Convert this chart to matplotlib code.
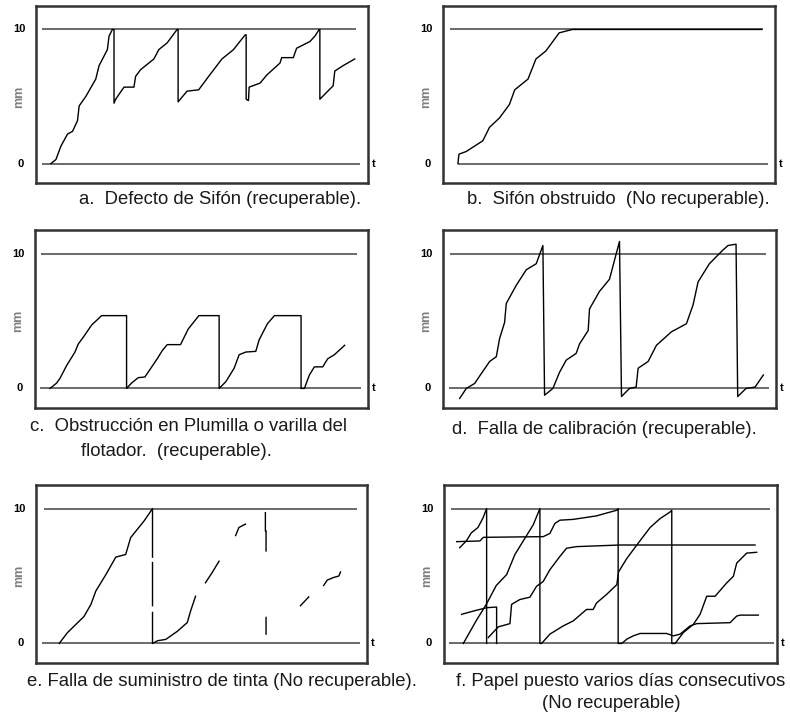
import matplotlib as mpl
import matplotlib.pyplot as plt
import numpy as np

mpl.rcParams["font.family"] = ["Liberation Sans", "DejaVu Sans"]

nan = np.nan

# a. Defecto de Sifón
a_t = [4.5, 6, 7.5, 9.5, 11, 12.5, 13, 15, 18, 19, 21.5, 22, 23, 23.5, 23.5, 24, 26.5, 29.5, 30, 31.5,
       35.5, 37, 39.5, 42.5, 42.8, 42.8, 45.5, 49, 52, 56, 59.5, 63, 63.3, 63.3, 64, 64.2, 67.5, 69.5,
       73.5, 74, 77.5, 78.5, 82.5, 84, 85.3, 85.5, 85.5, 87.5, 89.5, 90, 92.5, 96]
a_mm = [0, 0.3, 1.3, 2.2, 2.4, 3.2, 4.3, 5.0, 6.3, 7.3, 8.5, 9.5, 10, 10, 4.5, 4.8, 5.7, 5.7, 6.5, 7.0,
        7.8, 8.5, 9.0, 10, 10, 4.6, 5.4, 5.5, 6.5, 7.8, 8.5, 9.6, 9.6, 4.8, 4.7, 5.7, 6.0, 6.6,
        7.5, 7.9, 7.9, 8.6, 9.1, 9.5, 10, 10, 4.8, 5.3, 5.8, 6.9, 7.3, 7.8]

# b. Sifón obstruido
b_t = [4.5, 4.8, 7, 12, 14, 17, 20, 21.6, 25.6, 28, 31, 35, 39, 96]
b_mm = [0, 0.7, 0.9, 1.7, 2.7, 3.4, 4.4, 5.5, 6.3, 7.8, 8.4, 9.75, 10, 10]

# c. Obstrucción en plumilla
c_t = [4.5, 6.5, 7.5, 9.5, 12, 13, 14.5, 17, 20, 27.5, 27.5, 29, 31, 33, 36.7, 38.2, 39.7, 43.7, 46,
       49.2, 55.3, 55.3, 57.3, 59.8, 61.3, 63.3, 66.3, 67.3, 69.8, 71.9, 79.9, 79.9, 80.9, 82.4, 83.9,
       86.4, 87.9, 89.9, 93]
c_mm = [0, 0.4, 0.75, 1.7, 2.7, 3.3, 3.8, 4.7, 5.4, 5.4, 0, 0.4, 0.8, 0.85, 2.2, 2.8, 3.25, 3.25, 4.4,
        5.4, 5.4, 0, 0.5, 1.5, 2.5, 2.7, 2.75, 3.6, 4.8, 5.4, 5.4, 0, 0, 1.0, 1.6,
        1.6, 2.2, 2.5, 3.2]

# d. Falla de calibración
d_t = [5, 7, 9.5, 11.5, 14, 16, 17, 18.5, 19, 22, 25, 28, 30, 30.5, 33, 35, 37, 40, 41, 43.6, 44, 47,
       50, 51.6, 53, 53.6, 56, 58, 58.6, 61.6, 64.1, 68.6, 73.1, 75.1, 76.6, 80, 84, 85.6, 88, 88.5,
       91, 93.7, 96.2]
d_mm = [-0.74, 0, 0.37, 1.1, 2.0, 2.35, 3.7, 4.9, 6.3, 7.65, 8.8, 9.25, 10.6, -0.5, 0, 1.2, 2.1, 2.6,
        3.3, 4.3, 5.9, 7.2, 8.1, 9.6, 10.9, -0.6, 0, 0.1, 1.5, 2.0, 3.2, 4.2, 4.8, 6.2, 7.9, 9.25,
        10.25, 10.6, 10.7, -0.6, 0, 0.1, 1.0]

# e. Falla de suministro de tinta (trazo interrumpido)
e_t = [7, 9.5, 14.5, 16.6, 18.1, 21.1, 24.1, 27.1, 28.6, 32.7, 35.2, 35.2, nan, 35.2, 35.2, nan,
       35.2, 35.2, 36.7, 39.2, 42.7, 45.7, 46.7, 48.2, nan, 51.2, 53.2, 55.3, nan, 60.3, 61.3, 63.3,
       nan, 69.3, 69.3, 69.5, 69.5, nan, 69.5, 69.5, nan, 79.9, 82.4, nan, 86.9, 88, 90, 91.5, 92]
e_mm = [0, 0.8, 2.0, 2.9, 3.9, 5.1, 6.4, 6.6, 7.85, 9.1, 10, 6.4, nan, 6.0, 2.8, nan,
        2.3, 0, 0.2, 0.3, 0.9, 1.55, 2.4, 3.5, nan, 4.5, 5.25, 6.1, nan, 8.0, 8.6, 8.85,
        nan, 9.7, 8.35, 8.35, 6.86, nan, 1.93, 0.69, nan, 2.8, 3.45, nan, 4.3, 4.7, 4.9, 5.0, 5.3]

# f. Papel puesto varios días consecutivos (varios trazos superpuestos)
f1_t = [5.8, 9.7, 12.7, 15.7, 18.8, 21.3, 24.3, 26.8, 28.8, 28.8, 29.3, 31.8, 35.8, 38.8, 42.8, 44.8,
        45.8, 48.8, 51.9, 52.4, 54.9, 57.9, 61.9, 64.9, 67.9, 68.4, 68.4, 69.4, 71.9, 74.9, 76.9,
        78.9, 81.4, 84.9, 86.9, 87.9, 90.9, 93.9]
f1_mm = [0, 1.7, 2.9, 4.3, 5.1, 6.6, 7.8, 8.8, 10, 0, 0, 0.69, 1.3, 1.67, 2.52, 2.52,
         3.0, 3.63, 4.36, 5.3, 6.3, 7.3, 8.6, 9.26, 9.75, 9.88, 0, 0, 0.81, 1.42, 2.16,
         3.5, 3.5, 4.49, 4.98, 5.96, 6.7, 6.76]
f2_t = [4.7, 6.7, 8.2, 10.2, 11.7, 12.8, 12.8]
f2_mm = [7.1, 7.6, 8.2, 8.6, 9.3, 10, 0]
f3_t = [5.3, 8.8, 12.8, 15.8, 15.8]
f3_mm = [2.16, 2.4, 2.65, 2.7, 0]
f4_t = [13.3, 16.3, 19.8, 20.3, 22.8, 25.8, 27.8, 29.8, 31.8, 34.8, 36.8, 39.8, 52.8, 93.4]
f4_mm = [0.44, 1.23, 1.47, 2.9, 3.26, 3.43, 4.24, 4.6, 5.47, 6.45, 7.06, 7.18, 7.3, 7.3]
f5_t = [3.8, 10.8, 11.8, 29.8, 31.8, 33.3, 34.8, 38.8, 45.8, 47.8, 51.9, 52.3, 52.3, 53.4, 54.9,
        56.8, 58.9, 66.9, 68.8, 70.9, 73.9, 75.9, 85.9, 87.9, 88.9, 94.4]
f5_mm = [7.55, 7.6, 7.87, 7.92, 8.16, 8.9, 9.14, 9.2, 9.46, 9.6, 9.88, 10, 0, 0, 0.32,
         0.56, 0.74, 0.74, 0.56, 0.69, 1.3, 1.47, 1.54, 2.03, 2.1, 2.1]

# tramo de las líneas de referencia 10 y 0 (en t)
ref10 = {"a": (1.8, 96.5), "b": (2, 96.5), "c": (1.8, 96.8), "d": (2, 97), "e": (2.3, 97), "f": (2, 98)}
ref0 = {"a": (1.8, 97.5), "b": (4.5, 98), "c": (1.5, 98), "d": (1.8, 98), "e": (1.8, 98), "f": (1.5, 99)}

captions = {
    "a": ["a.  Defecto de Sifón (recuperable)."],
    "b": ["b.  Sifón obstruido  (No recuperable)."],
    "c": ["c.  Obstrucción en Plumilla o varilla del", "flotador.  (recuperable)."],
    "d": ["d.  Falla de calibración (recuperable)."],
    "e": ["e. Falla de suministro de tinta (No recuperable)."],
    "f": ["f. Papel puesto varios días consecutivos", "(No recuperable)"],
}

W, H = 790, 713
fig = plt.figure(figsize=(W / 100, H / 100), dpi=100)

# cajas en pixeles: x0, x1, y0(top), y1(bottom)
boxes = {"a": (36, 368, 6, 183), "b": (443, 775, 6, 183),
         "c": (35, 368, 230, 408), "d": (443, 776, 230, 408),
         "e": (36, 367, 485, 663), "f": (444, 777, 485, 663)}

curves = {
    "a": [(a_t, a_mm)],
    "b": [(b_t, b_mm)],
    "c": [(c_t, c_mm)],
    "d": [(d_t, d_mm)],
    "e": [(e_t, e_mm)],
    "f": [(f1_t, f1_mm), (f2_t, f2_mm), (f3_t, f3_mm), (f4_t, f4_mm), (f5_t, f5_mm)],
}

for k, (x0, x1, y0, y1) in boxes.items():
    ax = fig.add_axes([x0 / W, 1 - y1 / H, (x1 - x0) / W, (y1 - y0) / H])
    ax.set_xlim(0, 100)
    ax.set_ylim(-1.45, 11.75)
    ax.set_xticks([])
    ax.set_yticks([])
    for s in ax.spines.values():
        s.set_linewidth(1.8)
        s.set_color("#333333")
    ax.plot(ref10[k], [10, 10], color="#6a6a6a", lw=1.4, solid_capstyle="butt")
    ax.plot(ref0[k], [0, 0], color="#6a6a6a", lw=1.4, solid_capstyle="butt")
    for t, mm in curves[k]:
        ax.plot(t, mm, color="black", lw=1.0)
    ax.text(-4.9, 10, "10", ha="center", va="center", fontsize=8, fontweight="bold", clip_on=False)
    ax.text(-4.7, 0, "0", ha="center", va="center", fontsize=8, fontweight="bold", clip_on=False)
    ax.text(-5.0, 5, "mm", ha="center", va="center", fontsize=9, fontweight="bold",
            color="#808080", rotation=90, clip_on=False)
    ax.text(101.3, 0, "t", ha="left", va="center", fontsize=8, fontweight="bold", clip_on=False)

# pies de figura (posición en pixeles)
cap_pos = {"a": [(220, 200)], "b": [(618, 200)],
           "c": [(188, 427), (176, 452)], "d": [(604, 429)],
           "e": [(222, 682)], "f": [(621, 682), (611, 703)]}
for k, lines in captions.items():
    for txt, (px, py) in zip(lines, cap_pos[k]):
        fig.text(px / W, 1 - py / H, txt, ha="center", va="center", fontsize=13.3, color="#1a1a1a")

plt.savefig("out.png", dpi=100)
